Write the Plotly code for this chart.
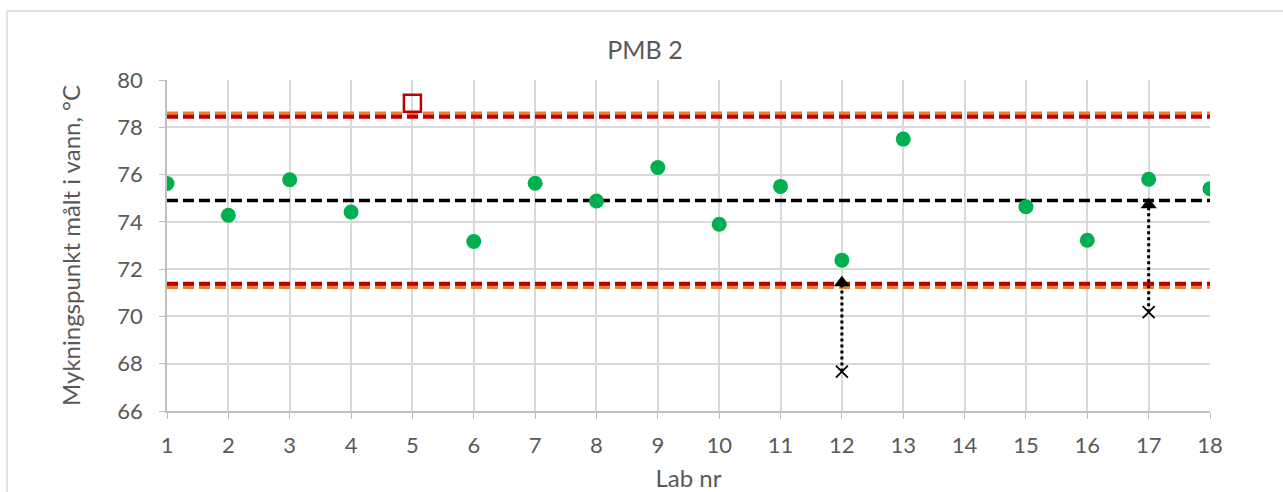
import plotly.graph_objects as go

labs = [1, 2, 3, 4, 6, 7, 8, 9, 10, 11, 12, 13, 15, 16, 17, 18]
values = [75.62, 74.28, 75.78, 74.42, 73.17, 75.63, 74.88, 76.3, 73.9, 75.5, 72.38, 77.5, 74.64, 73.22, 75.8, 75.4]
outlier_lab = [5]
outlier_val = [79.02]
raw_labs = [12, 17]
raw_vals = [67.67, 70.18]
corr_vals = [71.42, 74.72]
mean_val = 74.9
red_limits = [78.45, 71.38]
orange_limits = [78.58, 71.25]
x_span = [1, 18]
x_ticks = list(range(1, 19))
y_ticks = list(range(66, 81, 2))

fig = go.Figure()

for v in orange_limits:
    fig.add_trace(go.Scatter(x=x_span, y=[v, v], mode="lines",
                             line=dict(color="#ed7d31", width=4, dash="11px,5px"),
                             hoverinfo="skip", showlegend=False))
for v in red_limits:
    fig.add_trace(go.Scatter(x=x_span, y=[v, v], mode="lines",
                             line=dict(color="#c00000", width=4, dash="11px,5px"),
                             hoverinfo="skip", showlegend=False))
fig.add_trace(go.Scatter(x=x_span, y=[mean_val, mean_val], mode="lines",
                         line=dict(color="black", width=3.5, dash="11px,5px"),
                         hoverinfo="skip", showlegend=False))

for lab, r, c in zip(raw_labs, raw_vals, corr_vals):
    fig.add_trace(go.Scatter(x=[lab, lab], y=[r, c], mode="lines",
                             line=dict(color="black", width=3, dash="3px,3px"),
                             hoverinfo="skip", showlegend=False))

fig.add_trace(go.Scatter(x=raw_labs, y=raw_vals, mode="markers",
                         marker=dict(symbol="x-thin", size=12, line=dict(color="black", width=1.8)),
                         showlegend=False))
fig.add_trace(go.Scatter(x=raw_labs, y=corr_vals, mode="markers",
                         marker=dict(symbol="triangle-up", size=14, color="black"),
                         showlegend=False))

fig.add_trace(go.Scatter(x=labs, y=values, mode="markers",
                         marker=dict(symbol="circle", size=15, color="#00b050"),
                         showlegend=False))
fig.add_trace(go.Scatter(x=outlier_lab, y=outlier_val, mode="markers",
                         marker=dict(symbol="square-open", size=17, color="#c00000",
                                     line=dict(color="#c00000", width=2.5)),
                         showlegend=False))

L, R, T, B = 167, 1210, 80, 411
W, H = 1283, 492
pw = R - L
ph = B - T
x_left = (7 - L) / pw
y_top = 1 + (T - 11) / ph

fig.add_shape(type="line", xref="paper", yref="paper", x0=x_left, x1=x_left,
              y0=-0.5, y1=y_top, line=dict(color="#d9d9d9", width=1.5))
fig.add_shape(type="line", xref="paper", yref="paper", x0=x_left, x1=1.2,
              y0=y_top, y1=y_top, line=dict(color="#d9d9d9", width=1.5))

fig.update_layout(
    width=W, height=H,
    margin=dict(l=L, r=W - R, t=T, b=H - B, pad=0, autoexpand=False),
    paper_bgcolor="white", plot_bgcolor="white",
    font=dict(family="Lato, Open Sans, sans-serif", color="#595959", size=22),
    title=dict(text="PMB 2", x=645 / W, xanchor="center", y=1 - 50 / H, yanchor="middle",
               font=dict(size=25, color="#595959")),
    xaxis=dict(range=[1, 18], tickvals=x_ticks, showgrid=True, gridcolor="#d9d9d9", gridwidth=1.5,
               showline=True, linecolor="#bfbfbf", linewidth=1.5, ticks="outside", ticklen=6,
               tickcolor="#bfbfbf", zeroline=False, tickfont=dict(size=22), ticklabelstandoff=8,
               automargin=False,
               title=dict(text="Lab nr", font=dict(size=24), standoff=19)),
    yaxis=dict(range=[66, 80], tickvals=y_ticks, showgrid=True, gridcolor="#d9d9d9", gridwidth=1.5,
               showline=True, linecolor="#bfbfbf", linewidth=1.5, ticks="outside", ticklen=6,
               tickcolor="#bfbfbf", zeroline=False, tickfont=dict(size=22), ticklabelstandoff=12,
               automargin=False,
               title=dict(text="Mykningspunkt målt i vann, °C", font=dict(size=24), standoff=30)),
)

fig.write_html("out.html", config={"displayModeBar": False},
               post_script="document.body.style.margin='0';document.body.style.overflow='hidden';")
